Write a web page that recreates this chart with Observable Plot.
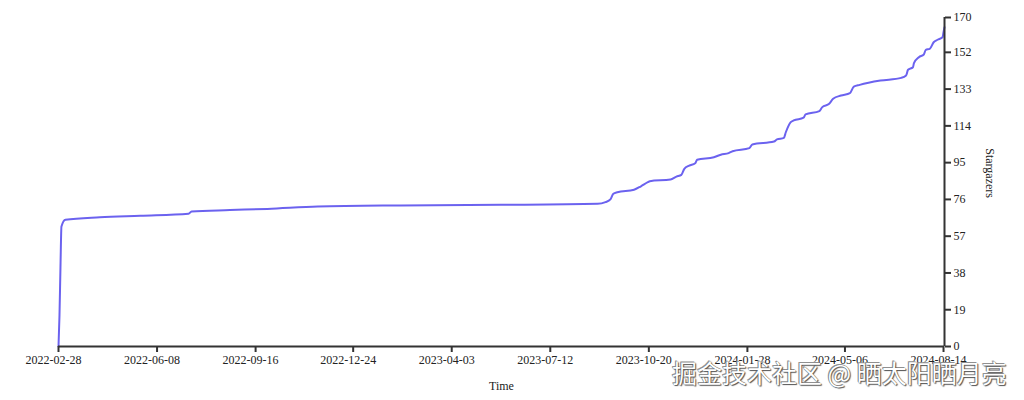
<!DOCTYPE html>
<html>
<head>
<meta charset="utf-8">
<script src="https://cdn.jsdelivr.net/npm/d3@7"></script>
<script src="https://cdn.jsdelivr.net/npm/@observablehq/plot@0.6"></script>
<style>
  html, body { margin: 0; padding: 0; background: #fff; }
  #wrap { position: relative; width: 1024px; height: 400px; }
  #wm {
    position: absolute; left: 672px; top: 354px;
    font-family: "Noto Sans CJK SC", sans-serif; font-size: 25px; white-space: nowrap;
    color: #fff;
    text-shadow: 0 0 1px #444, 1px 1px 1px #555, -1px -1px 0 #999;
  }
</style>
</head>
<body>
<div id="wrap"><div id="wm">掘金技术社区 @ 晒太阳晒月亮</div></div>
<script>
const dates = ["2022-02-28","2022-03-01","2022-03-02","2022-03-03","2022-03-07","2022-04-11","2022-05-22","2022-07-10","2022-07-13","2022-08-21","2022-09-28","2022-11-18","2023-02-10","2023-05-23","2023-08-29","2023-09-06","2023-09-11","2023-09-14","2023-09-18","2023-10-05","2023-10-12","2023-10-19","2023-10-21","2023-11-11","2023-11-17","2023-11-22","2023-11-25","2023-11-30","2023-12-06","2023-12-08","2023-12-25","2024-01-01","2024-01-09","2024-01-13","2024-01-30","2024-02-02","2024-02-24","2024-02-27","2024-03-05","2024-03-07","2024-03-12","2024-03-15","2024-03-25","2024-03-27","2024-04-10","2024-04-13","2024-04-20","2024-04-24","2024-05-02","2024-05-11","2024-05-15","2024-05-21","2024-06-11","2024-07-02","2024-07-07","2024-07-09","2024-07-14","2024-07-15","2024-07-20","2024-07-25","2024-07-27","2024-07-31","2024-08-04","2024-08-08","2024-08-13","2024-08-14","2024-08-15"];
const stars = [0,16,41,62,65.5,66.8,67.6,68.6,69.8,70.5,71.1,72.3,72.9,73.2,73.7,74.6,76,78.9,79.7,81,82.8,84.9,85.4,86.3,87.8,88.7,91.8,93.5,94.7,96.5,97.8,99.1,99.9,100.9,102.5,104.4,105.9,107,107.8,110.7,115.9,116.8,118.2,119.9,121.6,123.7,125.4,128,129.7,130.9,134.3,135.2,137.4,138.8,140,143,144.3,146.4,149.5,150.9,153.3,153.8,157.2,158.5,159.8,162.4,165];
const xTickLabels = ["2022-02-28","2022-06-08","2022-09-16","2022-12-24","2023-04-03","2023-07-12","2023-10-20","2024-01-28","2024-05-06","2024-08-14"];
const yTicks = [0,19,38,57,76,95,114,133,152,170];
const xDomain = ["2022-02-28","2024-08-15"];
const yDomain = [0,170];
const xLabel = "Time";
const yLabel = "Stargazers";

const parse = d3.utcParse("%Y-%m-%d");
const data = dates.map((d, i) => ({date: parse(d), stars: stars[i]}));
const xTicks = xTickLabels.map(parse);
const xDom = xDomain.map(parse);
const fmt = d3.utcFormat("%Y-%m-%d");
const axisColor = "#333";

const chart = Plot.plot({
  width: 1024,
  height: 400,
  marginLeft: 58,
  marginRight: 80,
  marginTop: 17,
  marginBottom: 54,
  style: {fontFamily: "'Liberation Serif', 'Times New Roman', serif", fontSize: "12px", color: "#222", background: "white"},
  x: {type: "utc", domain: xDom},
  y: {domain: yDomain},
  marks: [
    Plot.line(data, {x: "date", y: "stars", stroke: "#6b62ef", strokeWidth: 2, curve: "monotone-x"}),
    Plot.ruleY([yDomain[0]], {stroke: axisColor, strokeWidth: 2}),
    Plot.ruleX([xDom[1]], {stroke: axisColor, strokeWidth: 2}),
    Plot.axisX(xTicks, {tickSize: 6, stroke: axisColor, strokeWidth: 2, fill: "none", label: null}),
    Plot.axisX(xTicks, {tickSize: 0, tickPadding: 9, dx: -5, tickFormat: fmt, fill: "#222", label: null}),
    Plot.axisY(yTicks, {anchor: "right", tickSize: 6, tickPadding: 3, stroke: axisColor, strokeWidth: 2, fill: "#222", tickFormat: d => String(d), label: null}),
    Plot.text([xLabel], {frameAnchor: "bottom", dy: 43, lineAnchor: "bottom", fill: "#222", fontSize: 12}),
    Plot.text([yLabel], {frameAnchor: "right", rotate: 90, dx: 45, dy: 16, fill: "#222", fontSize: 12})
  ]
});
document.getElementById("wrap").prepend(chart);
</script>
</body>
</html>
